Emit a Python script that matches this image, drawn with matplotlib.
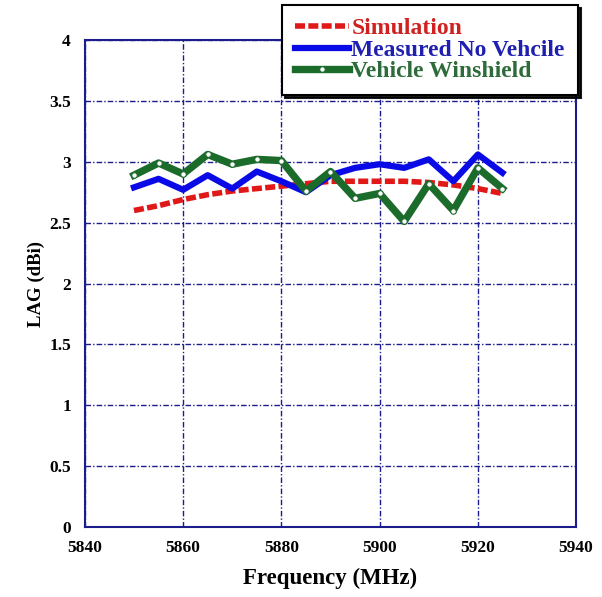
import numpy as np
import matplotlib.pyplot as plt

freq = [5850, 5855, 5860, 5865, 5870, 5875, 5880, 5885, 5890, 5895, 5900, 5905, 5910, 5915, 5920, 5925]
simulation = [2.60, 2.64, 2.69, 2.73, 2.76, 2.78, 2.80, 2.82, 2.84, 2.84, 2.84, 2.84, 2.83, 2.81, 2.78, 2.74]
measured = [2.79, 2.86, 2.77, 2.89, 2.78, 2.92, 2.84, 2.75, 2.89, 2.95, 2.98, 2.95, 3.02, 2.84, 3.06, 2.91]
winshield = [2.89, 2.99, 2.90, 3.06, 2.98, 3.02, 3.01, 2.76, 2.92, 2.70, 2.74, 2.51, 2.82, 2.60, 2.95, 2.78]

plt.rcParams['font.family'] = ['Liberation Serif', 'DejaVu Serif']
navy = '#1c1c8c'

fig = plt.figure(figsize=(6.02, 5.97), dpi=100)
ax = fig.add_axes([0.141, 0.117, 0.816, 0.816])

ax.plot(freq, simulation, color='#e01818', lw=4, ls=(0, (1.8, 0.6)),
        dash_capstyle='butt', label='Simulation', zorder=3)
ax.plot(freq, measured, color='#0a0ae6', lw=4.5, label='Measured No Vehcile', zorder=4)
ax.plot(freq, winshield, color='#1b6b2b', lw=5.3, marker='o', ms=4,
        mfc='white', mec='#1b6b2b', mew=0.8, label='Vehicle Winshield', zorder=5)

ax.set_xlim(5840, 5940)
ax.set_ylim(0, 4)
ax.set_xticks(np.arange(5840, 5941, 20))
ax.set_yticks(np.arange(0, 4.01, 0.5))
ax.set_yticklabels(['0', '0.5', '1', '1.5', '2', '2.5', '3', '3.5', '4'])
ax.tick_params(length=0, labelsize=12.5)
ax.tick_params(axis='y', pad=10)
ax.tick_params(axis='x', pad=9)
for lab in ax.get_xticklabels() + ax.get_yticklabels():
    lab.set_fontweight('bold')
ax.grid(True, color=navy, ls=(0, (4, 1.5, 1, 1.5)), lw=1)
for s in ax.spines.values():
    s.set_color(navy)
    s.set_linewidth(1.5)

ax.set_xlabel('Frequency (MHz)', fontsize=16.5, fontweight='bold', labelpad=9)
ax.set_ylabel('LAG (dBi)', fontsize=13.5, fontweight='bold', labelpad=3)

leg = fig.legend(loc='upper left', bbox_to_anchor=(0.468, 0.992),
                 prop={'weight': 'bold', 'size': 17}, frameon=True,
                 shadow={'color': 'black', 'alpha': 0.9},
                 fancybox=False, handlelength=2.3, handletextpad=0.1,
                 borderpad=0.55, labelspacing=0.0, borderaxespad=0,
                 labelcolor=['#d02020', '#2020b0', '#2d6b3a'])
leg.get_frame().set_edgecolor('black')
leg.get_frame().set_linewidth(1.5)
leg.get_frame().set_alpha(1)

fig.savefig('out.png', dpi=100)
